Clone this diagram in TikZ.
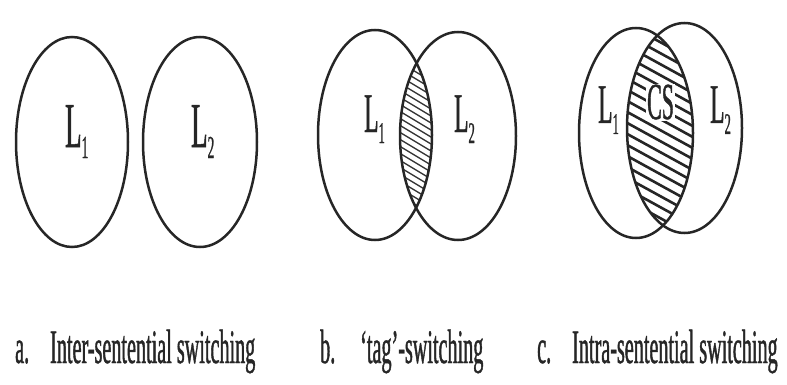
\documentclass[tikz,border=0pt]{standalone}
\usepackage{fontspec}
\setmainfont{Liberation Serif}
\newfontfamily\condfont[FakeStretch=0.42,FakeBold=0.8]{Liberation Serif}
\newcommand{\Lsub}[2]{L\raisebox{-11pt}{\fontsize{#2}{#2}\selectfont #1}}
\tikzset{
  venn/.style={line width=2.5pt, draw=black!85},
  hatchb/.style={line width=1.3pt, draw=black!80},
  hatchc/.style={line width=2.6pt, draw=black!85},
  lbl/.style={anchor=base west, inner sep=0pt, text=black!85, font=\condfont\fontsize{48}{48}\selectfont},
  lname/.style={anchor=base west, inner sep=0pt, text=black!85, font=\condfont\fontsize{#1}{#1}\selectfont},
}
\begin{document}
\begin{tikzpicture}[x=1pt,y=-1pt]
\useasboundingbox (0,0) rectangle (787,385);
% ---- panel a
\draw[venn] (72,142) ellipse [x radius=56, y radius=105];
\draw[venn] (200,142) ellipse [x radius=57, y radius=105];
\node[lname=64] (aL1) at (65,147) {\Lsub{1}{32}};
\node[lname=64] (aL2) at (191,147) {\Lsub{2}{32}};
% ---- panel b
\begin{scope}
  \clip (375,135) ellipse [x radius=57, y radius=105];
  \clip (458,136) ellipse [x radius=58, y radius=104];
  \foreach \i in {-17,...,17}
    \draw[hatchb] (370,{135+\i*7-0.6*46}) -- (462,{135+\i*7+0.6*46});
\end{scope}
\draw[venn] (375,135) ellipse [x radius=57, y radius=105];
\draw[venn] (458,136) ellipse [x radius=58, y radius=104];
\node[lname=56] (bL1) at (364,132) {\Lsub{1}{30}};
\node[lname=56] (bL2) at (454,132) {\Lsub{2}{30}};
% ---- panel c
\begin{scope}
  \clip (636,133) ellipse [x radius=57, y radius=105];
  \clip (684.5,128) ellipse [x radius=57.5, y radius=105];
  \foreach \i in {-13,...,13}
    \draw[hatchc] (612,{130+\i*11-0.55*48}) -- (708,{130+\i*11+0.55*48});
\end{scope}
\draw[venn] (636,133) ellipse [x radius=57, y radius=105];
\draw[venn] (684.5,128) ellipse [x radius=57.5, y radius=105];
\node[lname=56] (cL1) at (598,123) {\Lsub{1}{30}};
\node[lname=56] (cL2) at (710,123) {\Lsub{2}{30}};
\node[lname=52, fill=white, inner sep=1pt] (cCS) at (646,119) {CS};
% ---- captions
\node[lbl] (la) at (15,363) {a.};
\node[lbl] (ta) at (50,363) {Inter-sentential switching};
\node[lbl] (lb) at (320,363) {b.};
\node[lbl] (tb) at (360,363) {‘tag’-switching};
\node[lbl] (lc) at (537,363) {c.};
\node[lbl] (tc) at (572,363) {Intra-sentential switching};
\end{tikzpicture}
\end{document}
